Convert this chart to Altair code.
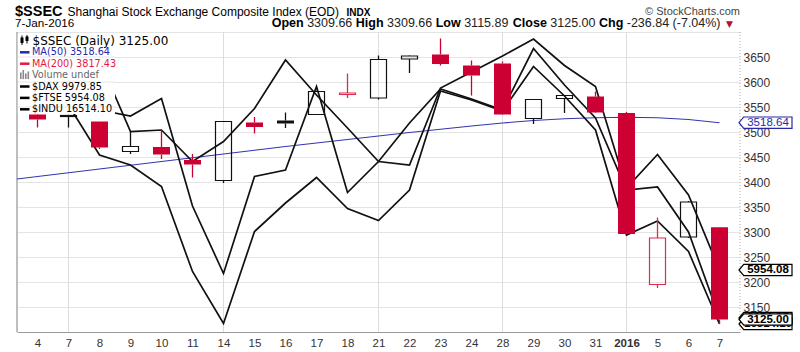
import altair as alt
import pandas as pd

# ---------------- data ----------------
day_labels = ["4", "7", "8", "9", "10", "11", "14", "15", "16", "17", "18", "21",
              "22", "23", "24", "28", "29", "30", "31", "2016", "5", "6", "7"]
opens  = [3535, 3531, 3521, 3461, 3470, 3444, 3403, 3519, 3523, 3535, 3575, 3568,
          3646, 3655, 3633, 3637, 3527, 3567, 3571, 3538, 3195, 3290, 3309.66]
highs  = [3545, 3533, 3521, 3501, 3504, 3456, 3521, 3530, 3539, 3583, 3617, 3653,
          3653, 3687, 3643, 3641, 3565, 3573, 3581, 3540, 3329, 3362, 3309.66]
lows   = [3509, 3509, 3466, 3456, 3446, 3409, 3398, 3497, 3508, 3534, 3568, 3565,
          3618, 3633, 3573, 3534, 3516, 3538, 3538, 3295, 3188, 3288, 3115.89]
closes = [3525, 3533, 3469, 3471, 3455, 3435, 3521, 3510, 3517, 3581, 3578, 3645,
          3652, 3636, 3613, 3535, 3565, 3573, 3539, 3296, 3288, 3360, 3125.00]
trend  = ["down", "up", "down", "up", "down", "down", "up", "down", "up", "up", "down", "up",
          "up", "down", "down", "down", "up", "up", "down", "down", "down", "up", "down"]

ftse = [3564, 3574, 3644, 3501, 3504, 3441, 3481, 3547, 3644, 3574, 3508, 3441,
        3434, 3588, 3620, 3652, 3686, 3633, 3591, 3388, 3455, 3374, 3224]
dax  = [3604, 3584, 3544, 3532, 3567, 3352, 3217, 3411, 3424, 3591, 3379, 3441,
        3518, 3586, 3566, 3544, 3667, 3594, 3528, 3384, 3390, 3300, 3128]
indu = [3624, 3554, 3454, 3434, 3391, 3221, 3117, 3301, 3358, 3409, 3347, 3323,
        3384, 3582, 3564, 3542, 3631, 3572, 3504, 3294, 3322, 3261, 3116]

ma50_index = list(range(-1, 23))
ma50 = [3403.5, 3411, 3418.5, 3426, 3433.5, 3441, 3448.5, 3456, 3463.5, 3471, 3478, 3485,
        3492, 3499, 3505.5, 3512, 3518, 3523, 3526.5, 3528.5, 3529.5, 3528.5, 3525, 3518.64]

week_starts = [1, 6, 11, 15, 19]
y_ticks = [3150, 3200, 3250, 3300, 3350, 3400, 3450, 3500, 3550, 3600, 3650, 3700]

stat_names = ["Open", "High", "Low", "Close", "Chg"]
stat_values = ["3309.66", "3309.66", "3115.89", "3125.00", "-236.84 (-7.04%)"]

legend_rows = ["MA(50) 3518.64", "MA(200) 3817.43", "Volume undef",
               "$DAX 9979.85", "$FTSE 5954.08", "$INDU 16514.10"]
legend_cols = ["#2828a8", "#e8173f", "#666666", "#000000", "#000000", "#000000"]

tag_values_back = [3116, 3128]
tag_texts_back = ["16514.10", "9979.85"]
tag_values_front = [3224, 3125.00]
tag_texts_front = ["5954.08", "3125.00"]
ma_tag_value = [3518.64]
ma_tag_text = ["3518.64"]

# ---------------- layout ----------------
W, H = 723, 300
PAD_L, PAD_T = 17, 32
RED, PINK, BLACK, BLUE = "#cc0033", "#dc2a50", "#111111", "#3535b0"
SANS = "Liberation Sans"
DJV = "DejaVu Sans"

n = len(day_labels)
c = pd.DataFrame(dict(i=list(range(n)), o=opens, h=highs, l=lows, c=closes, t=trend))
c["top"] = c[["o", "c"]].max(axis=1)
c["bot"] = c[["o", "c"]].min(axis=1)
c["filled"] = c["c"] < c["o"]
c["col"] = [RED if t == "down" else BLACK for t in trend]
c.loc[(~c["filled"]) & (c["t"] == "down"), "col"] = PINK

xscale = alt.Scale(domain=[-0.5, n - 0.5], nice=False, zero=False)
yscale = alt.Scale(domain=[3100, 3700], nice=False, zero=False)

label_js = "[" + ",".join("'%s'" % s for s in day_labels) + "][datum.value]"
bold_idx = day_labels.index("2016")
xaxis = alt.Axis(values=list(range(n)), labelExpr=label_js, grid=False, ticks=False,
                 domainColor="#9a9a9a", domainWidth=1, labelFont=SANS, labelFontSize=11.5,
                 labelColor="#333333", labelPadding=5, title=None, labelOverlap=False,
                 labelFontWeight={"condition": {"test": "datum.value == %d" % bold_idx, "value": "bold"},
                                  "value": "normal"})
yaxis = alt.Axis(orient="right", values=y_ticks, labelExpr="datum.value >= 3700 ? '' : datum.label",
                 format="d", gridColor="#e4e4e4", gridWidth=1, ticks=False, domain=False,
                 labelPadding=3, labelFont=SANS, labelFontSize=12, labelColor="#333333",
                 labelBaseline="middle", title=None)


def X(f):
    return alt.X(f, type="quantitative", scale=xscale, axis=xaxis)


def Y(f):
    return alt.Y(f, type="quantitative", scale=yscale, axis=yaxis)


one = pd.DataFrame({"a": [0]})
layers = []

# vertical week grid
layers.append(alt.Chart(pd.DataFrame({"i": week_starts})).mark_rule(color="#dddddd", strokeWidth=1)
              .encode(x=X("i"), y=alt.value(0), y2=alt.value(H)))

# left border and dotted right border
layers.append(alt.Chart(one).mark_rule(color="#a8a8a8", strokeWidth=1.5)
              .encode(x=alt.value(0), y=alt.value(0), y2=alt.value(H)))
layers.append(alt.Chart(one).mark_rule(color="#b0b0b0", strokeWidth=1, strokeDash=[1, 2])
              .encode(x=alt.value(W), y=alt.value(0), y2=alt.value(H)))

# MA(50)
ma = pd.DataFrame({"i": ma50_index, "v": ma50})
layers.append(alt.Chart(ma).mark_line(color=BLUE, strokeWidth=1.1, clip=True)
              .encode(x=X("i"), y=Y("v")))

# comparison lines
rows = []
for name, vals in [("$DAX", dax), ("$FTSE", ftse), ("$INDU", indu)]:
    for i, v in enumerate(vals):
        rows.append({"i": i, "v": v, "name": name})
lines = pd.DataFrame(rows)
layers.append(alt.Chart(lines).mark_line(color="#111111", strokeWidth=1.7, clip=True)
              .encode(x=X("i"), y=Y("v"), detail="name:N"))

# candles: wicks
layers.append(alt.Chart(c).mark_rule(strokeWidth=1.3)
              .encode(x=X("i"), y=Y("top"), y2="h", color=alt.Color("col:N", scale=None)))
layers.append(alt.Chart(c).mark_rule(strokeWidth=1.3)
              .encode(x=X("i"), y=Y("l"), y2="bot", color=alt.Color("col:N", scale=None)))
# filled bodies
layers.append(alt.Chart(c[c["filled"]]).mark_bar(size=17, strokeWidth=0)
              .encode(x=X("i"), y=Y("bot"), y2="top", fill=alt.Fill("col:N", scale=None)))
# hollow bodies
layers.append(alt.Chart(c[~c["filled"]]).mark_bar(size=16, fillOpacity=0, strokeWidth=1.2)
              .encode(x=X("i"), y=Y("bot"), y2="top", stroke=alt.Stroke("col:N", scale=None)))

# legend mask and grid over it
layers.append(alt.Chart(one).mark_rect(fill="white")
              .encode(x=alt.value(0.8), x2=alt.value(98), y=alt.value(2), y2=alt.value(82)))
layers.append(alt.Chart(pd.DataFrame({"v": [3550, 3600, 3650]})).mark_rule(color="#e4e4e4", strokeWidth=1)
              .encode(y=Y("v"), x=alt.value(0.8), x2=alt.value(98)))


def txt(s, x_abs, y_abs, size, weight="normal", color="#000000", font=SANS, align="left",
        baseline="alphabetic"):
    return alt.Chart(one).mark_text(text=s, fontSize=size, fontWeight=weight, color=color, font=font,
                                    align=align, baseline=baseline).encode(
        x=alt.value(x_abs - PAD_L), y=alt.value(y_abs - PAD_T))


def rule_abs(x1, y1, x2, y2, color, width):
    return alt.Chart(one).mark_rule(color=color, strokeWidth=width).encode(
        x=alt.value(x1 - PAD_L), x2=alt.value(x2 - PAD_L), y=alt.value(y1 - PAD_T), y2=alt.value(y2 - PAD_T))


def rect_abs(x1, y1, x2, y2, color):
    return alt.Chart(one).mark_rect(color=color).encode(
        x=alt.value(x1 - PAD_L), x2=alt.value(x2 - PAD_L), y=alt.value(y1 - PAD_T), y2=alt.value(y2 - PAD_T))


# legend row 1 icon + text
layers.append(rule_abs(22, 35.5, 22, 45, "#000", 1))
layers.append(rect_abs(20.5, 37.5, 23.5, 43, "#000"))
layers.append(rule_abs(27, 35, 27, 43.5, "#000", 1))
layers.append(rect_abs(25.5, 36.5, 28.5, 41, "#000"))
layers.append(txt("$SSEC (Daily) 3125.00", 32.5, 40.5, 12, font=DJV, baseline="middle"))
row_y = [52.3, 63.7, 75.1, 86.5, 97.9, 109.3]
for k, (s, col) in enumerate(zip(legend_rows, legend_cols)):
    yy = row_y[k]
    if s.startswith("Volume"):
        for bx, by in [(20, 72.5), (22.5, 70), (25, 73.5), (27.5, 71.5)]:
            layers.append(rect_abs(bx, by, bx + 1.6, yy + 4, "#888888"))
    else:
        layers.append(rule_abs(20, yy, 29.5, yy, col, 2.5))
    layers.append(txt(s, 32, yy, 9.7, color=col, font=DJV, baseline="middle"))

# right-axis tags
TAG = "M -1 0 L -0.82 -0.215 L 1 -0.215 L 1 0.215 L -0.82 0.215 Z"


def tags(vals, texts, stroke, tcolor, weight):
    d = pd.DataFrame({"v": vals, "s": texts})
    p = alt.Chart(d).mark_point(shape=TAG, size=2809, filled=True, fill="white", fillOpacity=1,
                                stroke=stroke, strokeWidth=1.2, opacity=1).encode(
        x=alt.value(748.5), y=Y("v"))
    t = alt.Chart(d).mark_text(fontSize=11.5, fontWeight=weight, color=tcolor, font=SANS,
                               align="center", baseline="middle", dx=1).encode(
        x=alt.value(750), y=Y("v"), text="s:N")
    return [p, t]


layers += tags(tag_values_back, tag_texts_back, "#000000", "#000000", "bold")
layers += tags(ma_tag_value, ma_tag_text, "#2828a8", "#2828a8", "normal")
layers += tags(tag_values_front, tag_texts_front, "#000000", "#000000", "bold")

# header
layers.append(txt("$SSEC", 15, 16, 14.5, weight="bold"))
layers.append(txt("Shanghai Stock Exchange Composite Index (EOD)", 67.5, 16, 12))
layers.append(txt("INDX", 346.5, 16, 10, weight="bold"))
layers.append(txt("7-Jan-2016", 15, 27.3, 11.7))
layers.append(txt("\u00a9 StockCharts.com", 740, 15, 11, color="#444444", align="right"))

REGW = {" ": 278, ".": 278, "-": 333, "(": 333, ")": 333, "%": 889}
for dgt in "0123456789":
    REGW[dgt] = 556
BOLDW = {"O": 778, "p": 611, "e": 556, "n": 611, "H": 722, "i": 278, "g": 611, "h": 611, "L": 611,
         "o": 611, "w": 778, "C": 722, "l": 278, "s": 556}


def width(s, table, size):
    return sum(table.get(ch, 556) for ch in s) * size / 1000.0


HS = 12.5
x = 271.7
for name, val in zip(stat_names, stat_values):
    layers.append(txt(name, x, 27.3, HS, weight="bold"))
    x += width(name, BOLDW, HS) + width(" ", REGW, HS)
    layers.append(txt(val, x, 27.3, HS, color="#222222"))
    x += width(val, REGW, HS) + width(" ", REGW, HS)
layers.append(txt("\u25bc", x + 2, 27, 9, color="#b0103a", font=DJV))

chart = alt.layer(*layers).properties(
    width=W, height=H,
    autosize=alt.AutoSizeParams(type="none"),
    padding={"left": PAD_L, "top": PAD_T, "right": 800 - PAD_L - W, "bottom": 352 - PAD_T - H},
    background="white",
).configure_view(stroke=None)

chart.save("out.html", embed_options={"renderer": "svg", "actions": False})
